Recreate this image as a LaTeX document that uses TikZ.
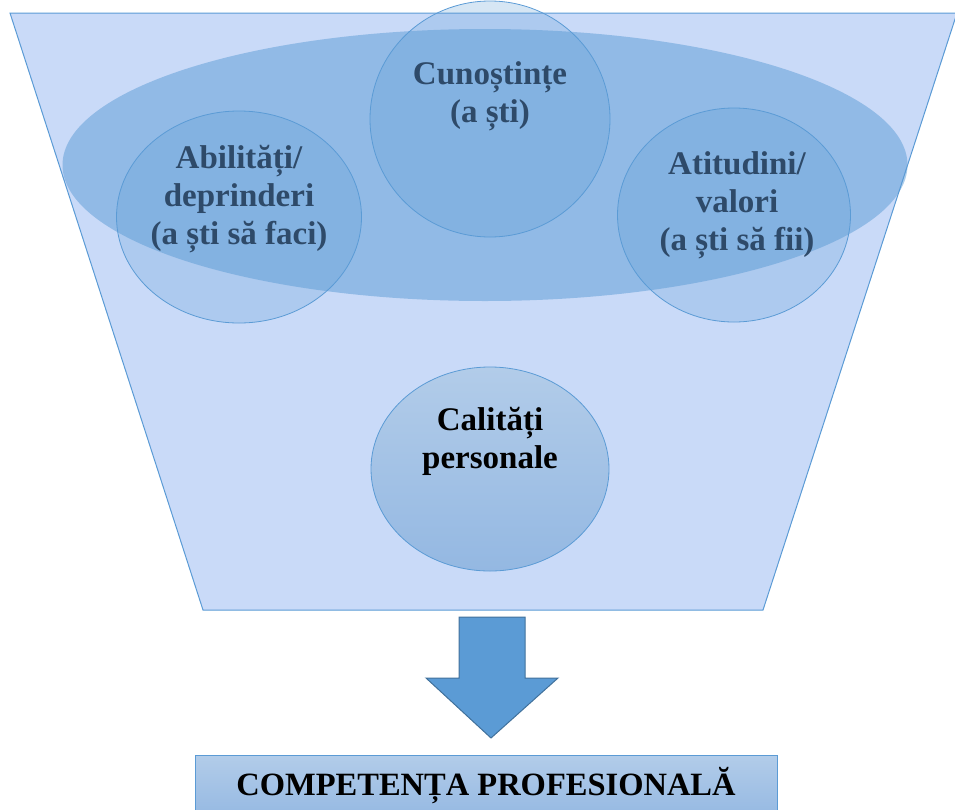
\documentclass[tikz,border=0pt]{standalone}
\usepackage{fontspec}
\setmainfont{Liberation Serif}
\usetikzlibrary{shapes.geometric,positioning}

\definecolor{funnel}{HTML}{C9DAF8}
\definecolor{rim}{HTML}{5B9BD5}
\definecolor{darkrim}{HTML}{41719C}
\definecolor{inktxt}{HTML}{2E4A69}
\definecolor{gradtop}{HTML}{B2CCE9}
\definecolor{gradbot}{HTML}{94B8E2}

\tikzset{
  bubble/.style={ellipse, draw=rim, line width=0.8pt, fill=rim, fill opacity=0.25, inner sep=0pt},
  bigtxt/.style={align=center, font=\fontsize{33}{38}\selectfont\bfseries, text=inktxt},
}

\begin{document}
\begin{tikzpicture}[x=1pt,y=-1pt]
            \useasboundingbox (0,0) rectangle (955,809);
            % funnel
            \draw[draw=rim, line width=1pt, fill=funnel] (10,13) -- (957,13) -- (763,610) -- (203,610) -- cycle;
            \node[ellipse, fill=rim, fill opacity=0.5, minimum width=845, minimum height=272, inner sep=0pt] (zone) at (485,165) {};

            \node[bubble, minimum width=240, minimum height=236] (know) at (490,119) {};
            \node[bubble, minimum width=245, minimum height=212] (skill) at (239,217) {};
            \node[bubble, minimum width=233, minimum height=214] (attit) at (734,215) {};
            \node[bigtxt] at (490,96) {Cunoștințe\\(a ști)};
            \node[bigtxt] at (239,199) {Abilități/\\deprinderi\\(a ști să faci)};
            \node[bigtxt] at (737,205) {Atitudini/\\valori\\(a ști să fii)};

            \node[ellipse, draw=rim, line width=0.8pt, top color=gradtop, bottom color=gradbot, minimum width=238, minimum height=204, inner sep=0pt] (pers) at (490,469) {};
            \node[bigtxt, text=black] at (490,441) {Calități\\personale};

            % arrow
            \draw[draw=darkrim, line width=1pt, fill=rim] (459,617) -- (525,617) -- (525,678) -- (558,678) -- (491,738) -- (426,678) -- (459,678) -- cycle;

            \node[draw=rim, line width=1pt, top color=gradtop, bottom color=gradbot, minimum width=582, minimum height=64, inner sep=0pt, anchor=north] (comp) at (486,755) {};
            \node[font=\fontsize{32.5}{36}\selectfont\bfseries] at (486,786) {COMPETENȚA PROFESIONALĂ};
          \end{tikzpicture}
\end{document}
